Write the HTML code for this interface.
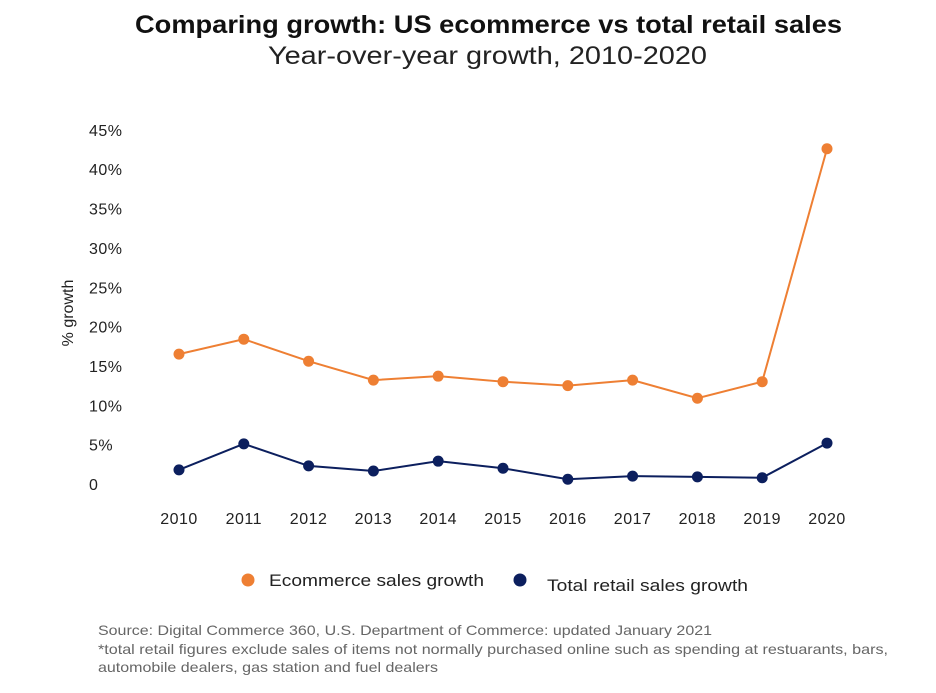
<!DOCTYPE html>
<html><head><meta charset="utf-8"><style>
body{margin:0;background:#fff;width:936px;height:688px;overflow:hidden;font-family:"Liberation Sans",sans-serif}
svg text{font-family:"Liberation Sans",sans-serif}
</style></head><body>
<svg id="chart" width="936" height="688">
<text x="135" y="33" font-size="25" font-weight="bold" fill="#111" textLength="707" lengthAdjust="spacingAndGlyphs">Comparing growth: US ecommerce vs total retail sales</text>
<text x="268" y="64" font-size="25" fill="#222" textLength="439" lengthAdjust="spacingAndGlyphs">Year-over-year growth, 2010-2020</text>
<text transform="translate(73,313) rotate(-90)" text-anchor="middle" font-size="16" fill="#222">% growth</text>
<g id="yticks"></g><g id="xticks"></g><g id="series"></g>
<circle cx="248" cy="580" r="6.5" fill="#ee7f33"/>
<text x="269" y="586" font-size="17" fill="#222" textLength="215" lengthAdjust="spacingAndGlyphs">Ecommerce sales growth</text>
<circle cx="520" cy="580" r="6.5" fill="#0c1f5e"/>
<text x="547" y="591" font-size="17" fill="#222" textLength="201" lengthAdjust="spacingAndGlyphs">Total retail sales growth</text>
<g font-size="14" fill="#666">
<text x="98" y="635" textLength="614" lengthAdjust="spacingAndGlyphs">Source: Digital Commerce 360, U.S. Department of Commerce: updated January 2021</text>
<text x="98" y="654" textLength="790" lengthAdjust="spacingAndGlyphs">*total retail figures exclude sales of items not normally purchased online such as spending at restuarants, bars,</text>
<text x="98" y="672" textLength="340" lengthAdjust="spacingAndGlyphs">automobile dealers, gas station and fuel dealers</text>
</g>
</svg>
<script>
const years=[2010,2011,2012,2013,2014,2015,2016,2017,2018,2019,2020];
const ecommerce=[16.5,18.4,15.6,13.2,13.7,13.0,12.5,13.2,10.9,13.0,42.6];
const retail=[1.8,5.1,2.3,1.65,2.9,2.0,0.6,1.0,0.9,0.8,5.2];
const yTicks=[0,5,10,15,20,25,30,35,40,45];
const NS="http://www.w3.org/2000/svg";
const x=i=>179+i*64.8;
const y=v=>484-v*7.87;
function mk(t,a,p){const e=document.createElementNS(NS,t);for(const k in a)e.setAttribute(k,a[k]);p.appendChild(e);return e;}
const yg=document.getElementById('yticks');
yTicks.forEach(t=>{const e=mk('text',{x:89,y:y(t)+6,'font-size':16,fill:'#222','letter-spacing':'0.5'},yg);e.textContent=t===0?'0':t+'%';

});
const xg=document.getElementById('xticks');
years.forEach((yr,i)=>{const e=mk('text',{x:x(i),y:524,'font-size':16,fill:'#222','text-anchor':'middle','letter-spacing':'0.5'},xg);e.textContent=yr;

});
const sg=document.getElementById('series');
[[ecommerce,'#ee7f33','ecommerce'],[retail,'#0c1f5e','retail']].forEach(([d,c,n])=>{
const l=mk('polyline',{points:d.map((v,i)=>x(i)+','+y(v)).join(' '),fill:'none',stroke:c,'stroke-width':2},sg);


d.forEach((v,i)=>{const p=mk('circle',{cx:x(i),cy:y(v),r:5.5,fill:c},sg);

});
});
</script>
</body></html>
